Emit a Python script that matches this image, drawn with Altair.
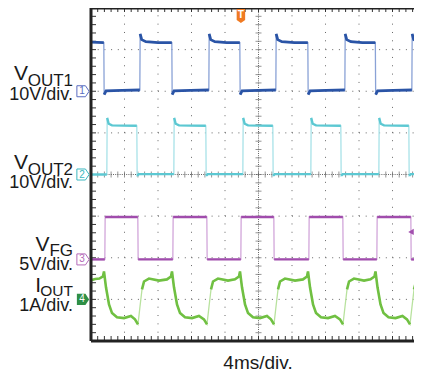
import altair as alt
import pandas as pd

# ---------------- data (time in ms, 4 ms/div) ----------------
DIV_PX = 33.5
W, H = 323, 333
X_MAX = W / DIV_PX * 4  # visible part of the 10-division screen (ms)

V1_T = [0.00, 1.53, 1.57, 1.80, 3.70, 5.83, 5.87, 6.05, 6.55, 8.00,
        9.65, 9.69, 9.92, 11.9, 14.07, 14.11, 14.29, 14.79, 16.2,
        17.77, 17.81, 18.04, 20.0, 22.07, 22.11, 22.29, 22.79, 24.3,
        25.89, 25.93, 26.16, 28.1, 30.31, 30.35, 30.53, 31.03, 32.4,
        33.95, 33.99, 34.22, 36.1, 38.31, 38.35, 38.53, 39.03, 39.52]
V1_V = [11.8, 11.7, -0.8, 0.1, 0.2, 0.3, 13.8, 12.4, 11.9, 11.7,
        11.7, -0.8, 0.1, 0.2, 0.3, 13.8, 12.4, 11.9, 11.7,
        11.7, -0.8, 0.1, 0.2, 0.3, 13.8, 12.4, 11.9, 11.7,
        11.7, -0.8, 0.1, 0.2, 0.3, 13.8, 12.4, 11.9, 11.7,
        11.7, -0.8, 0.1, 0.2, 0.3, 13.8, 12.4, 11.9, 11.7]

V2_T = [0.00, 1.89, 1.93, 2.11, 2.51, 5.47, 5.51, 5.70,
        9.89, 9.93, 10.11, 10.51, 13.71, 13.75, 13.94,
        18.13, 18.17, 18.35, 18.75, 21.71, 21.75, 21.94,
        26.25, 26.29, 26.47, 26.87, 29.83, 29.87, 30.06,
        34.37, 34.41, 34.59, 34.99, 37.95, 37.99, 38.18, 39.52]
V2_V = [0.0, 0.0, 13.6, 12.2, 11.8, 11.7, -0.3, 0.1,
        0.1, 13.6, 12.2, 11.8, 11.7, -0.3, 0.1,
        0.1, 13.6, 12.2, 11.8, 11.7, -0.3, 0.1,
        0.1, 13.6, 12.2, 11.8, 11.7, -0.3, 0.1,
        0.1, 13.6, 12.2, 11.8, 11.7, -0.3, 0.1, 0.1]

FG_T = [0.00, 1.65, 1.69, 5.59, 5.63, 9.77, 9.81, 13.83, 13.87, 17.89, 17.93,
        21.83, 21.87, 26.01, 26.05, 30.07, 30.11, 34.13, 34.17, 38.19, 38.23, 39.52]
FG_V = [0.0, 0.0, 5.1, 5.1, 0.0, 0.0, 5.1, 5.1, 0.0, 0.0, 5.1,
        5.1, 0.0, 0.0, 5.1, 5.1, 0.0, 0.0, 5.1, 5.1, 0.0, 0.0]

IOUT = [(0.00, 0.46), (0.50, 0.49), (1.00, 0.50),
        (1.43, 0.55), (1.55, 0.67), (1.79, 0.29), (2.15, -0.12), (2.51, -0.33), (3.10, -0.43),
        (3.94, -0.45), (4.77, -0.40), (5.25, -0.48), (5.61, -0.60), (5.85, -0.17), (6.09, 0.24),
        (6.33, 0.43), (6.92, 0.50), (8.12, 0.45), (9.07, 0.48),
        (9.55, 0.55), (9.67, 0.67), (9.91, 0.29), (10.27, -0.12), (10.63, -0.33), (11.22, -0.43),
        (12.06, -0.45), (12.89, -0.40), (13.49, -0.48), (13.85, -0.60), (14.09, -0.17), (14.33, 0.24),
        (14.57, 0.43), (15.16, 0.50), (16.36, 0.45), (17.19, 0.48),
        (17.67, 0.55), (17.79, 0.67), (18.03, 0.29), (18.39, -0.12), (18.75, -0.33), (19.34, -0.43),
        (20.18, -0.45), (21.01, -0.40), (21.49, -0.48), (21.85, -0.60), (22.09, -0.17), (22.33, 0.24),
        (22.57, 0.43), (23.16, 0.50), (24.36, 0.45), (25.31, 0.48),
        (25.79, 0.55), (25.91, 0.67), (26.15, 0.29), (26.51, -0.12), (26.87, -0.33), (27.46, -0.43),
        (28.30, -0.45), (29.13, -0.40), (29.73, -0.48), (30.09, -0.60), (30.33, -0.17), (30.57, 0.24),
        (30.81, 0.43), (31.40, 0.50), (32.60, 0.45), (33.37, 0.48),
        (33.85, 0.55), (33.97, 0.67), (34.21, 0.29), (34.57, -0.12), (34.93, -0.33), (35.52, -0.43),
        (36.36, -0.45), (37.19, -0.40), (37.73, -0.48), (38.09, -0.60), (38.33, -0.17), (38.57, 0.24),
        (38.81, 0.43), (39.40, 0.50), (39.52, 0.50)]
I_T = [p[0] for p in IOUT]
I_V = [p[1] for p in IOUT]

CH_NAMES = ["VOUT1", "VOUT2", "VFG", "IOUT"]
CH_OFFSET = [6.0, 4.0, 1.96, 1.0]      # ground level, in divisions from bottom
CH_SCALE = [10.0, 10.0, 5.0, 1.0]      # units per division
CH_COLOR = ["#2a54a6", "#5cc8d2", "#a04cac", "#70c042"]
CH_EDGE = ["#8aa2d6", "#a8e2e8", "#d2a6da", "#b8e29e"]
CH_WIDTH = [2.8, 2.4, 2.4, 2.6]
MK_COLOR = ["#5a6cc0", "#3cb8c0", "#b46ab8", "#2e8f46"]
TRIG_T = 17.9        # ms
TRIG_LEVEL = 3.3     # V on VFG

FONT = "Liberation Sans"
xs = alt.Scale(domain=[0, X_MAX], nice=False, zero=False)
ys = alt.Scale(domain=[0, 8], nice=False, zero=False)
GRID = "#666666"


def X(f="t"):
    return alt.X(f"{f}:Q", scale=xs, axis=None)


def Y(f="y"):
    return alt.Y(f"{f}:Q", scale=ys, axis=None)


# ---------------- graticule ----------------
vgrid = alt.Chart(pd.DataFrame({"t": [4, 8, 12, 16, 24, 28, 32, 36]})).mark_rule(
    color=GRID, strokeWidth=1, strokeDash=[1, 7.325]).encode(
    x=X(), y=alt.value(H), y2=alt.value(0))
hgrid = alt.Chart(pd.DataFrame({"y": [1, 2, 3, 5, 6, 7]})).mark_rule(
    color=GRID, strokeWidth=1, strokeDash=[1, 5.7]).encode(
    y=Y(), x=alt.value(0), x2=alt.value(W))
vcenter = alt.Chart(pd.DataFrame({"t": [20]})).mark_rule(
    color=GRID, strokeWidth=1, strokeDash=[1, 1.2]).encode(
    x=X(), y=alt.value(H), y2=alt.value(0))
hcenter = alt.Chart(pd.DataFrame({"y": [4]})).mark_rule(
    color=GRID, strokeWidth=1, strokeDash=[1, 1.2]).encode(
    y=Y(), x=alt.value(0), x2=alt.value(W))

minor_y = [round(0.2 * k, 2) for k in range(1, 40)]
minor_t = [round(0.8 * k, 2) for k in range(1, 50) if 0.8 * k < X_MAX]
vticks = alt.Chart(pd.DataFrame({"y": minor_y, "t": [20] * len(minor_y)})).mark_tick(
    orient="horizontal", size=6, thickness=1, color=GRID).encode(x=X(), y=Y())
hticks = alt.Chart(pd.DataFrame({"t": minor_t, "y": [4] * len(minor_t)})).mark_tick(
    orient="vertical", size=6, thickness=1, color=GRID).encode(x=X(), y=Y())
left_ticks = alt.Chart(pd.DataFrame({"y": minor_y})).mark_rule(color="#333", strokeWidth=1).encode(
    y=Y(), x=alt.value(1), x2=alt.value(5))
bot_ticks = alt.Chart(pd.DataFrame({"t": minor_t})).mark_rule(color="#333", strokeWidth=1).encode(
    x=X(), y=alt.value(H - 1), y2=alt.value(H - 5))
top_ticks = alt.Chart(pd.DataFrame({"t": minor_t})).mark_rule(color="#333", strokeWidth=1).encode(
    x=X(), y=alt.value(1), y2=alt.value(4))

frame_v = alt.Chart(pd.DataFrame({"t": [0], "y": [0], "y2": [8]})).mark_rule(
    color="#222", strokeWidth=3).encode(x=X(), y=Y(), y2="y2:Q")
frame_h = alt.Chart(pd.DataFrame({"t": [0, 0], "t2": [X_MAX, X_MAX], "y": [0, 8]})).mark_rule(
    color="#222", strokeWidth=3).encode(x=X(), x2="t2:Q", y=Y())

# ---------------- traces: thin light edges, thick flat parts ----------------
layers_tr = []
for name, T, V, off, sc, col, ecol, sw in zip(
        CH_NAMES, [V1_T, V2_T, FG_T, I_T], [V1_V, V2_V, FG_V, I_V],
        CH_OFFSET, CH_SCALE, CH_COLOR, CH_EDGE, CH_WIDTH):
    d = pd.DataFrame({"t": T, "v": V})
    d["y"] = off + d["v"] / sc
    slope = (d["y"].diff().abs() / (d["t"].diff() / 4)).fillna(0)
    d["seg"] = (slope > 6.5).cumsum()
    layers_tr.append(alt.Chart(d).mark_line(strokeWidth=1.3, color=ecol).encode(x=X(), y=Y()))
    layers_tr.append(alt.Chart(d).mark_line(strokeWidth=sw, color=col).encode(
        x=X(), y=Y(), detail="seg:N"))

# ---------------- channel ground markers ----------------
ARROW = "M-1,-0.9 L0.4,-0.9 L1,0 L0.4,0.9 L-1,0.9 Z"
markers = []
for k, (off, mc) in enumerate(zip(CH_OFFSET, MK_COLOR)):
    dm = pd.DataFrame({"y": [off], "lab": [str(k + 1)]})
    if k < 3:
        box = alt.Chart(dm).mark_point(shape=ARROW, size=150, filled=True, fill="white",
                                       stroke=mc, strokeWidth=1, opacity=1)
        tcol = mc
    else:
        box = alt.Chart(dm).mark_point(shape=ARROW, size=150, filled=True, color=mc, opacity=1)
        tcol = "white"
    markers.append(box.encode(x=alt.value(-8), y=Y()))
    markers.append(alt.Chart(dm).mark_text(font=FONT, fontSize=10, baseline="middle",
                                           align="center", color=tcol).encode(
        x=alt.value(-9), y=Y(), text="lab:N"))

trig = pd.DataFrame({"t": [TRIG_T], "lab": ["T"]})
trig_mark = alt.Chart(trig).mark_point(
    shape="M-0.6,-1 L0.6,-1 L0.6,0.55 L0,1 L-0.6,0.55 Z", size=200, filled=True,
    color="#f07a22", opacity=1).encode(x=X(), y=alt.value(8))
trig_text = alt.Chart(trig).mark_text(font=FONT, fontSize=10, fontWeight="bold", color="white",
                                      baseline="middle").encode(x=X(), y=alt.value(7), text="lab:N")
lvl = pd.DataFrame({"y": [CH_OFFSET[2] + TRIG_LEVEL / CH_SCALE[2]]})
lvl_mark = alt.Chart(lvl).mark_point(shape="triangle-left", size=40, filled=True,
                                     color="#a24fae", opacity=1).encode(
    x=alt.value(W - 3), y=Y())

# ---------------- labels ----------------
LABELS = ["V", "OUT1", "10V/div.", "V", "OUT2", "10V/div.", "V", "FG", "5V/div.",
          "I", "OUT", "1A/div.", "4ms/div."]
LAB_X = [-63, -18, -18, -63, -18, -18, -41.5, -18, -18, -50, -18, -18, 167]
LAB_Y = [72, 78, 92, 161, 167, 180, 243, 248, 262, 284, 288, 303, 361]
LAB_S = [21, 17, 18, 21, 17, 18, 21, 17, 18, 21, 15.5, 18, 19]
LAB_A = ["right"] * 12 + ["center"]
texts = []
for s, x, y, fs, al in zip(LABELS, LAB_X, LAB_Y, LAB_S, LAB_A):
    texts.append(alt.Chart(pd.DataFrame({"s": [s]})).mark_text(
        font=FONT, fontSize=fs, align=al, baseline="alphabetic", color="#1a1a1a").encode(
        x=alt.value(x), y=alt.value(y), text="s:N"))

chart = alt.layer(
    vgrid, hgrid, vcenter, hcenter, vticks, hticks, left_ticks, bot_ticks, top_ticks,
    *layers_tr, frame_v, frame_h, *markers, trig_mark, trig_text, lvl_mark, *texts
).properties(
    width=W, height=H,
    padding={"left": 83, "top": 0, "right": 0, "bottom": 35},
    autosize=alt.AutoSizeParams(type="none"),
).configure_view(strokeWidth=0)

chart.save("out.html", embed_options={"renderer": "svg", "actions": False})
